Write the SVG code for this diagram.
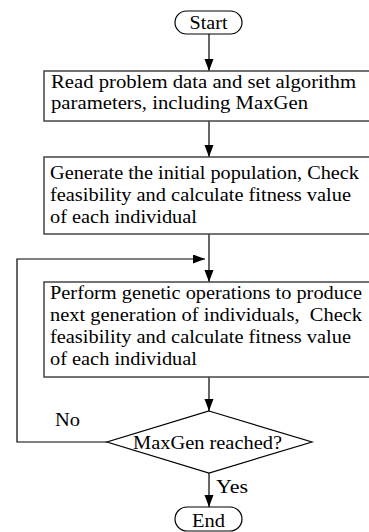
<svg xmlns="http://www.w3.org/2000/svg" width="369" height="532" viewBox="0 0 369 532">
  <style>
    .t { font-family: 'Liberation Serif', 'Times New Roman', serif; font-size: 18px; fill: #000; white-space: pre; }
    .box { fill: #fff; stroke: #444; stroke-width: 1.5; }
    .term { fill: #fff; stroke: #000; stroke-width: 1.2; }
    .line { fill: none; stroke: #000; stroke-width: 1.2; }
  </style>
  <defs>
    <marker id="arrow" markerUnits="userSpaceOnUse" markerWidth="12" markerHeight="10" refX="12" refY="4.5" orient="auto">
      <path d="M0,0 L12,4.5 L0,9 Z" fill="#000"/>
    </marker>
  </defs>
  <rect width="369" height="532" fill="#fff"/>

  <!-- connectors -->
  <g id="connectors">
    <line class="line" x1="209" y1="34" x2="209" y2="71" marker-end="url(#arrow)"/>
    <line class="line" x1="209" y1="121" x2="209" y2="157" marker-end="url(#arrow)"/>
    <line class="line" x1="209" y1="234" x2="209" y2="282" marker-end="url(#arrow)"/>
    <polyline class="line" points="107,442 17,442 17,259 205,259" marker-end="url(#arrow)"/>
    <line class="line" x1="209" y1="377" x2="209" y2="411" marker-end="url(#arrow)"/>
    <line class="line" x1="209" y1="473" x2="209" y2="507" marker-end="url(#arrow)"/>
    <text class="t" x="55" y="426" textLength="25" lengthAdjust="spacingAndGlyphs">No</text>
    <text class="t" x="216" y="493" textLength="32" lengthAdjust="spacingAndGlyphs">Yes</text>
  </g>

  <!-- start terminal -->
  <g id="start">
    <rect class="term" x="175" y="11" width="67" height="23" rx="11.5"/>
    <text class="t" x="208.5" y="29" text-anchor="middle" textLength="38" lengthAdjust="spacingAndGlyphs">Start</text>
  </g>

  <!-- read input -->
  <g id="read-data">
    <rect class="box" x="44" y="71" width="330" height="50"/>
    <text class="t" x="51" y="88" textLength="305" lengthAdjust="spacingAndGlyphs">Read problem data and set algorithm</text>
    <text class="t" x="51" y="108.5" textLength="257" lengthAdjust="spacingAndGlyphs">parameters, including MaxGen</text>
  </g>

  <!-- initial population -->
  <g id="init-population">
    <rect class="box" x="44" y="157" width="330" height="77"/>
    <text class="t" x="50" y="179" textLength="309" lengthAdjust="spacingAndGlyphs">Generate the initial population, Check</text>
    <text class="t" x="50" y="201" textLength="301" lengthAdjust="spacingAndGlyphs">feasibility and calculate fitness value</text>
    <text class="t" x="50" y="222.5" textLength="147" lengthAdjust="spacingAndGlyphs">of each individual</text>
  </g>

  <!-- genetic operations -->
  <g id="genetic-ops">
    <rect class="box" x="44" y="282" width="330" height="95"/>
    <text class="t" x="50" y="299" textLength="312" lengthAdjust="spacingAndGlyphs">Perform genetic operations to produce</text>
    <text class="t" x="50" y="321" textLength="312" lengthAdjust="spacingAndGlyphs">next generation of individuals,  Check</text>
    <text class="t" x="50" y="343" textLength="301" lengthAdjust="spacingAndGlyphs">feasibility and calculate fitness value</text>
    <text class="t" x="50" y="365" textLength="147" lengthAdjust="spacingAndGlyphs">of each individual</text>
  </g>

  <!-- termination check -->
  <g id="maxgen-check">
    <polygon class="term" points="209,411 312,442 209,473 107,442"/>
    <text class="t" x="207.5" y="449" text-anchor="middle" textLength="149" lengthAdjust="spacingAndGlyphs">MaxGen reached?</text>
  </g>

  <!-- end terminal -->
  <g id="end">
    <rect class="term" x="175" y="507" width="67" height="24" rx="12"/>
    <text class="t" x="208.5" y="526.5" text-anchor="middle" textLength="33" lengthAdjust="spacingAndGlyphs">End</text>
  </g>
</svg>
